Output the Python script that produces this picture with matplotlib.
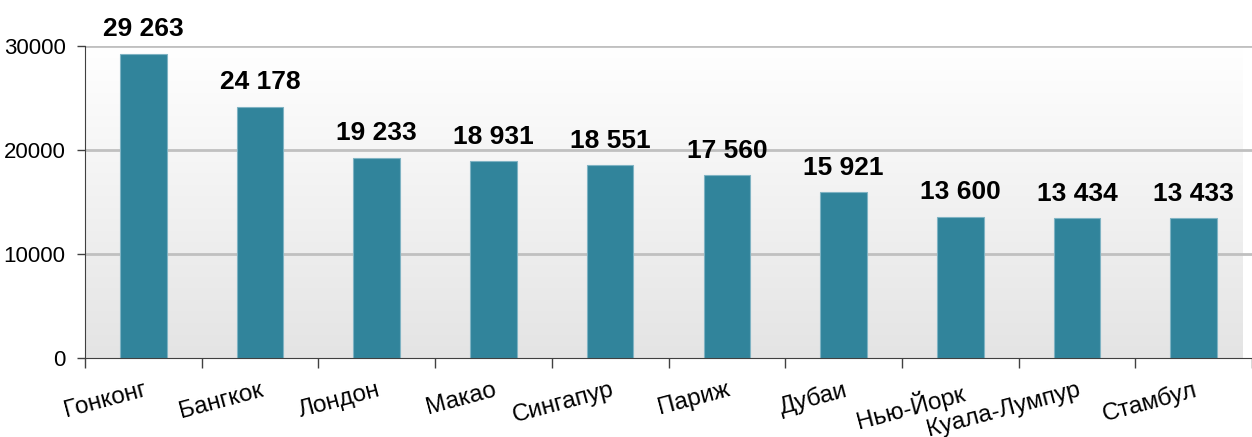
import numpy as np
import matplotlib.pyplot as plt

plt.rcParams['font.family'] = ['Liberation Sans', 'DejaVu Sans']

# data
cities = ["Гонконг", "Бангкок", "Лондон", "Макао", "Сингапур",
          "Париж", "Дубаи", "Нью-Йорк", "Куала-Лумпур", "Стамбул"]
visitors = [29263, 24178, 19233, 18931, 18551, 17560, 15921, 13600, 13434, 13433]
yticks = [0, 10000, 20000, 30000]

fig = plt.figure(figsize=(12.52, 4.37), dpi=100)
ax = fig.add_axes([0.0679, 0.1808, 0.9321, 0.7139])

x = np.arange(len(cities))
ax.set_xlim(-0.5, 9.42)
ax.set_ylim(0, 30000)

# gradient background, white at top to light gray at bottom
grad = np.linspace(0, 1, 256).reshape(-1, 1)
ax.imshow(grad, extent=[-0.5, 9.42, 0, 30000], aspect='auto',
          cmap=plt.matplotlib.colors.LinearSegmentedColormap.from_list(
              'bg', ['#e4e4e4', '#ffffff']),
          origin='lower', zorder=0)

for y in yticks[1:]:
    ax.axhline(y, color='#c0c0c0', lw=2, zorder=1)

ax.bar(x, visitors, width=0.4, color='#31849B', edgecolor='#7fb3c3',
       linewidth=0.8, zorder=2)

for xi, v in zip(x, visitors):
    ax.annotate(f"{v:,}".replace(",", " "), (xi, v), xytext=(0, 9),
                textcoords='offset points', ha='center', va='bottom',
                fontsize=19, fontweight='bold', annotation_clip=False)

ax.set_yticks(yticks)
ax.set_yticklabels([str(t) for t in yticks], fontsize=16)
ax.tick_params(axis='y', length=6, width=1, color='#404040', pad=8)

# ticks between categories, labels at the centers
ax.set_xticks(np.arange(-0.5, 10, 1.0))
ax.set_xticklabels([])
ax.set_xticks(x, minor=True)
ax.set_xticklabels(cities, minor=True, fontsize=17.5, rotation=15,
                   ha='right', rotation_mode='anchor')
ax.tick_params(axis='x', which='major', length=7, width=1, color='#404040')
ax.tick_params(axis='x', which='minor', length=0, pad=15)

for s in ['top', 'right']:
    ax.spines[s].set_visible(False)
ax.spines['left'].set_color('#404040')
ax.spines['bottom'].set_color('#404040')

fig.savefig('out.png', dpi=100)
